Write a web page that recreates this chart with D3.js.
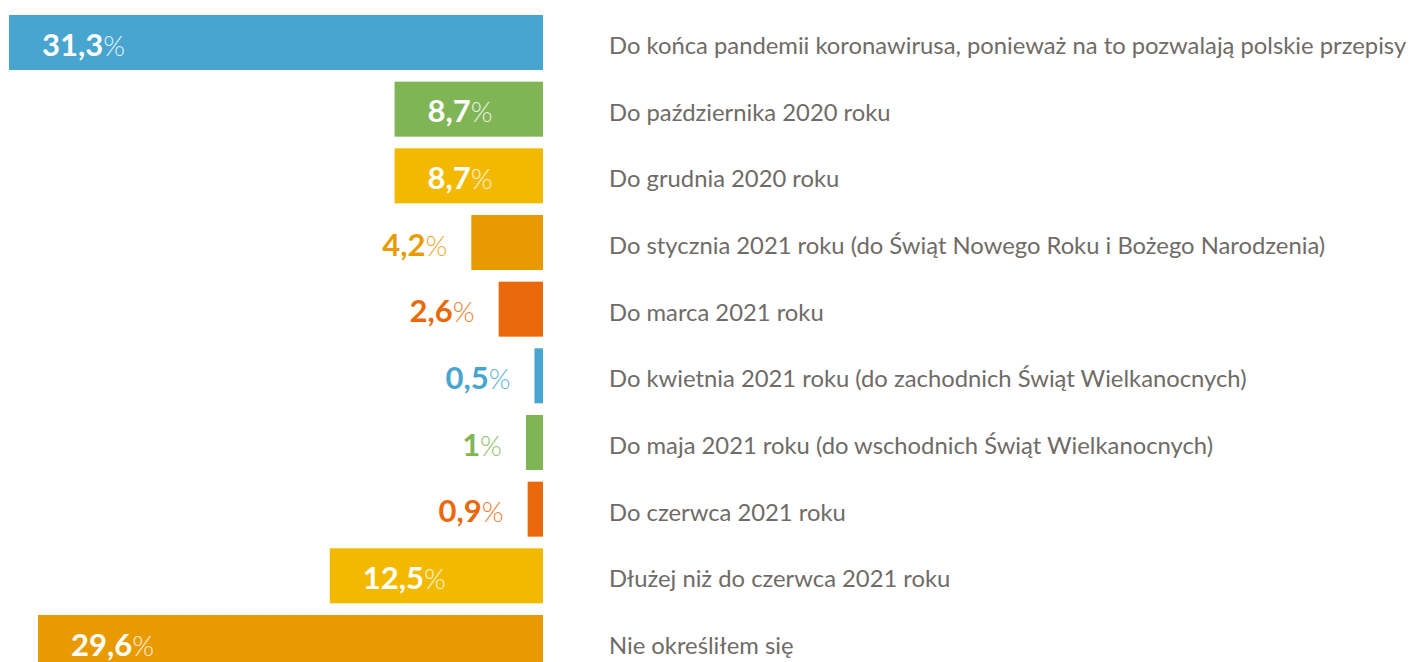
<!DOCTYPE html>
<html>
<head>
<meta charset="utf-8">
<script src="https://cdn.jsdelivr.net/npm/d3@7"></script>
<style>
  html, body { margin: 0; padding: 0; background: #fff; overflow: hidden; }
  svg { display: block; font-family: Lato, sans-serif; }
</style>
</head>
<body>
<svg id="chart" width="1410" height="662"></svg>
<script>
// chart data
const categories = [
    'Do końca pandemii koronawirusa, ponieważ na to pozwalają polskie przepisy',
    'Do października 2020 roku',
    'Do grudnia 2020 roku',
    'Do stycznia 2021 roku (do Świąt Nowego Roku i Bożego Narodzenia)',
    'Do marca 2021 roku',
    'Do kwietnia 2021 roku (do zachodnich Świąt Wielkanocnych)',
    'Do maja 2021 roku (do wschodnich Świąt Wielkanocnych)',
    'Do czerwca 2021 roku',
    'Dłużej niż do czerwca 2021 roku',
    'Nie określiłem się'
];
const values = [31.3, 8.7, 8.7, 4.2, 2.6, 0.5, 1, 0.9, 12.5, 29.6];
const valueLabels = ['31,3', '8,7', '8,7', '4,2', '2,6', '0,5', '1', '0,9', '12,5', '29,6'];
const barColors = ['#47a5cf', '#7fb554', '#f2b900', '#e99a00', '#ea690b',
                   '#47a5cf', '#7fb554', '#ea690b', '#f2b900', '#e99a00'];

const svg = d3.select('#chart');
const cs = {
    barRight: 543,
    labelX: 609,
    insidePad: 33,
    outsidePad: 24,
    textColor: '#6f6b67'
};

const ds = categories.map((c, i) => ({ cat: c, v: values[i], label: valueLabels[i], color: barColors[i] }));

// bars grow to the left from barRight
const x = d3.scaleLinear().domain([0, 31.3]).range([0, 534]);
const y = d3.scaleBand()
    .domain(d3.range(ds.length))
    .range([15, 670])
    .paddingInner(0.175)
    .paddingOuter(0);

const rows = svg.selectAll('g.row').data(ds).enter()
    .append('g').attr('class', 'row')
    .attr('transform', (d, i) => 'translate(0,' + y(i) + ')');

rows.append('rect')
    .attr('x', d => cs.barRight - x(d.v))
    .attr('y', 0)
    .attr('width', d => x(d.v))
    .attr('height', y.bandwidth())
    .attr('fill', d => d.color);

const mid = y.bandwidth() / 2;

// value labels: inside for the big bars, outside for the small ones
const val = rows.append('text')
    .attr('y', mid + 13)
    .attr('font-size', 31)
    .attr('text-anchor', d => d.v >= 8 ? 'start' : 'end')
    .attr('x', d => d.v >= 8 ? cs.barRight - x(d.v) + cs.insidePad : cs.barRight - x(d.v) - cs.outsidePad)
    .attr('fill', d => d.v >= 8 ? '#fff' : d.color);

val.append('tspan').attr('font-weight', 700).text(d => d.label);
val.append('tspan').attr('font-weight', 300).attr('font-size', 28).attr('opacity', 0.85).text('%');

// category labels
rows.append('text')
    .attr('x', cs.labelX)
    .attr('y', mid + 11.5)
    .attr('font-size', 23.8)
    .attr('fill', cs.textColor)
    .text(d => d.cat);
</script>
</body>
</html>
